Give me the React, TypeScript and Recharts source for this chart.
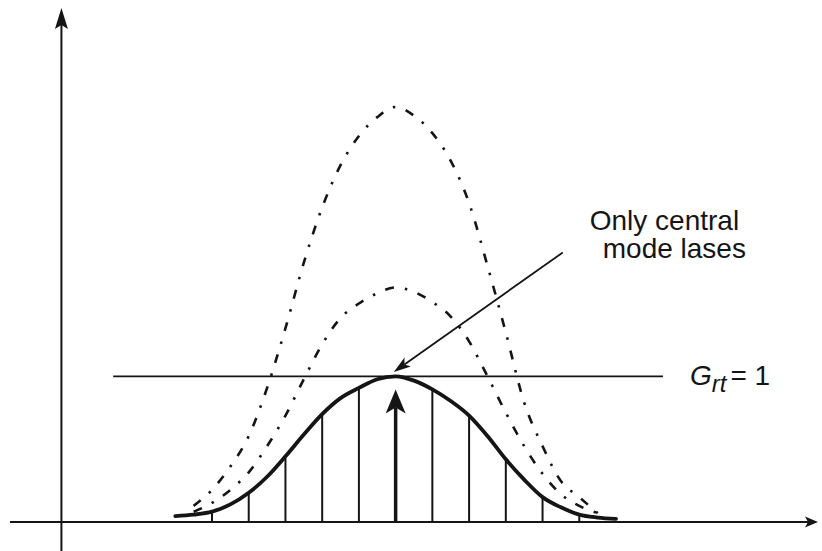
import React from 'react';
import { ComposedChart, Line, XAxis, YAxis, ReferenceLine } from 'recharts';

// frequency in units of the mode spacing, centre mode = 0
const freq = [-6, -5.5, -5, -4.5, -4, -3.5, -3, -2.5, -2, -1.5, -1, -0.5, 0, 0.5, 1, 1.5, 2, 2.5, 3, 3.5, 4, 4.5, 5, 5.5, 6];
// round-trip gain curves (G_rt)
const gainThreshold = [0.04, 0.05, 0.07, 0.12, 0.2, 0.31, 0.45, 0.6, 0.74, 0.85, 0.92, 0.98, 1.0, 0.97, 0.91, 0.83, 0.73, 0.59, 0.43, 0.29, 0.17, 0.1, 0.05, 0.03, 0.02];
const gainMid = [null, 0.07, 0.13, 0.22, 0.34, 0.52, 0.73, 0.98, 1.22, 1.4, 1.5, 1.57, 1.61, 1.58, 1.51, 1.41, 1.24, 1.0, 0.75, 0.52, 0.33, 0.19, 0.11, 0.06, null];
const gainHigh = [null, 0.11, 0.22, 0.38, 0.59, 0.92, 1.33, 1.78, 2.16, 2.45, 2.65, 2.78, 2.85, 2.79, 2.67, 2.48, 2.19, 1.76, 1.3, 0.82, 0.52, 0.28, 0.17, 0.06, null];
const modeFreq = [-5, -4, -3, -2, -1, 1, 2, 3, 4, 5];
const lasingMode = 0;
const lasingArrowTop = 0.91;
const threshold = 1;
const thresholdSpan = [-7.69, 7.28];
const annotationLines = ['Only central', 'mode lases'];
const annotationFrom = { x: 4.55, y: 1.85 };
const annotationTo = { x: -0.05, y: 1.03 };

const data = freq.map((f, i) => ({ f, low: gainThreshold[i], mid: gainMid[i], high: gainHigh[i] }));
const modeTop = (k: number) => gainThreshold[freq.indexOf(k)];

const INK = '#151515';
const FONT = '"Liberation Sans", Arial, Helvetica, sans-serif';

const head = (x1: number, y1: number, x2: number, y2: number, len: number, half: number, notch: number) => {
  const d = Math.hypot(x2 - x1, y2 - y1) || 1;
  const ux = (x2 - x1) / d;
  const uy = (y2 - y1) / d;
  const nx = -uy;
  const ny = ux;
  const pts = [
    [x2, y2],
    [x2 - ux * len + nx * half, y2 - uy * len + ny * half],
    [x2 - ux * notch, y2 - uy * notch],
    [x2 - ux * len - nx * half, y2 - uy * len - ny * half],
  ];
  return {
    points: pts.map((p) => p.join(',')).join(' '),
    bx: x2 - ux * notch,
    by: y2 - uy * notch,
  };
};

const arrowShape = (width: number, len: number, half: number, notch: number) => (p: any) => {
  const { x1, y1, x2, y2 } = p;
  const h = head(x1, y1, x2, y2, len, half, notch);
  return (
    <g>
      <line x1={x1} y1={y1} x2={h.bx} y2={h.by} stroke={INK} strokeWidth={width} />
      <polygon points={h.points} fill={INK} />
    </g>
  );
};

const thresholdShape = (p: any) => {
  const { x1, y1, x2, y2 } = p;
  return (
    <g>
      <line x1={x1} y1={y1} x2={x2} y2={y2} stroke={INK} strokeWidth={1.8} />
      <text x={x2 + 27} y={y2 + 9} fontFamily={FONT} fontSize={28} fill={INK}>
        <tspan fontStyle="italic">G</tspan>
        <tspan fontStyle="italic" fontSize={24} dy={7}>rt</tspan>
        <tspan dy={-7} dx={4}>= 1</tspan>
      </text>
    </g>
  );
};

const annotationShape = (p: any) => {
  const { x1, y1, x2, y2 } = p;
  const h = head(x1, y1, x2, y2, 17, 5.5, 13);
  return (
    <g>
      <line x1={x1} y1={y1} x2={h.bx} y2={h.by} stroke={INK} strokeWidth={1.8} />
      <polygon points={h.points} fill={INK} />
      <text x={x1 + 27} y={y1 - 23} fontFamily={FONT} fontSize={28} fill={INK}>{annotationLines[0]}</text>
      <text x={x1 + 40} y={y1 + 5} fontFamily={FONT} fontSize={28} fill={INK}>{annotationLines[1]}</text>
    </g>
  );
};

const App = () => {
  return (
    <div style={{ position: 'absolute', left: 0, top: 0, width: 822, height: 551, background: '#fff' }}>
      <ComposedChart width={822} height={551} data={data} margin={{ top: 5, right: 4, left: 10, bottom: 0 }}>
        <XAxis type="number" dataKey="f" domain={[-10.5, 11.5]} allowDataOverflow hide />
        <YAxis type="number" domain={[-0.2, 3.55]} allowDataOverflow hide />

        {/* axes */}
        <ReferenceLine segment={[{ x: -9.1, y: -0.2 }, { x: -9.1, y: 3.53 }]} ifOverflow="visible" shape={arrowShape(2, 21, 6.5, 17)} />
        <ReferenceLine segment={[{ x: -10.5, y: 0 }, { x: 11.5, y: 0 }]} ifOverflow="visible" shape={arrowShape(2, 13, 5.5, 10)} />

        {/* longitudinal modes */}
        {modeFreq.map((k) => (
          <ReferenceLine key={k} segment={[{ x: k, y: 0 }, { x: k, y: modeTop(k) }]} ifOverflow="visible" stroke={INK} strokeWidth={2} />
        ))}
        <ReferenceLine segment={[{ x: lasingMode, y: 0 }, { x: lasingMode, y: lasingArrowTop }]} ifOverflow="visible" shape={arrowShape(3.5, 24, 10, 18)} />

        <ReferenceLine segment={[{ x: thresholdSpan[0], y: threshold }, { x: thresholdSpan[1], y: threshold }]} ifOverflow="visible" shape={thresholdShape} />

        <Line type="monotone" dataKey="high" stroke={INK} strokeWidth={2.6} strokeDasharray="9 11 2.5 11" dot={false} activeDot={false} isAnimationActive={false} />
        <Line type="monotone" dataKey="mid" stroke={INK} strokeWidth={2.6} strokeDasharray="9 11 2.5 11" dot={false} activeDot={false} isAnimationActive={false} />
        <Line type="monotone" dataKey="low" stroke={INK} strokeWidth={3.8} strokeLinecap="round" dot={false} activeDot={false} isAnimationActive={false} />

        <ReferenceLine segment={[annotationFrom, annotationTo]} ifOverflow="visible" shape={annotationShape} />
      </ComposedChart>
    </div>
  );
};

export default App;
